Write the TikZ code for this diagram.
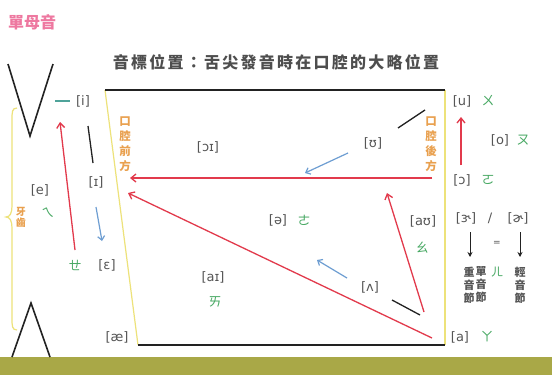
\documentclass[tikz,border=0pt]{standalone}
\usepackage{fontspec}
\setmainfont{DejaVu Sans}
\newfontfamily\cjk{Noto Sans CJK TC}
\newfontfamily\cjksp{Noto Sans CJK TC}[LetterSpace=14]
\usetikzlibrary{arrows.meta}
\definecolor{lblc}{HTML}{555555}
\definecolor{greenc}{HTML}{46A862}
\definecolor{orangec}{HTML}{E9A04E}
\definecolor{redc}{HTML}{E23A4C}
\definecolor{bluec}{HTML}{6E9ED2}
\definecolor{blkc}{HTML}{222222}
\definecolor{ylwc}{HTML}{EDE27A}
\definecolor{pinkc}{HTML}{EE78A0}
\definecolor{olivec}{HTML}{A9A847}
\definecolor{tealc}{HTML}{4FA39A}
\tikzset{
  lbl/.style={text=lblc, font=\fontsize{13}{13}\selectfont, inner sep=0pt},
  bpm/.style={text=greenc, font=\cjk\fontsize{13}{13}\selectfont, inner sep=0pt},
  vtext/.style={text=orangec, font=\cjk\bfseries\fontsize{11.5}{15}\selectfont, align=center, inner sep=0pt},
  small/.style={text=lblc, font=\cjk\bfseries\fontsize{11}{13}\selectfont, align=center, inner sep=0pt},
  redarr/.style={draw=redc, line width=1.3pt, -{Straight Barb[length=5pt,width=8pt]}},
  bluearr/.style={draw=bluec, line width=1.2pt, -{Straight Barb[length=4pt,width=7pt]}},
  blkarr/.style={draw=blkc, line width=1pt, -{Stealth[length=5pt,width=5pt]}},
  blk/.style={draw=blkc, line width=1.6pt},
  thinblk/.style={draw=blkc, line width=1.3pt},
  ylw/.style={draw=ylwc, line width=1.2pt},
}
\begin{document}
\begin{tikzpicture}[x=1pt,y=-1pt]
\useasboundingbox[fill=white] (0,0) rectangle (552,375);
\fill[olivec] (0,357) rectangle (552,375);

% titles
\node[text=pinkc, font=\cjk\bfseries\fontsize{16}{16}\selectfont, inner sep=0pt, anchor=west] (title) at (8,22) {單母音};
\node[text=blkc!80, font=\cjksp\bfseries\fontsize{16}{16}\selectfont, inner sep=0pt] (sub) at (276,62) {音標位置：舌尖發音時在口腔的大略位置};

% mouth frame
\coordinate (tl) at (105,90);
\coordinate (tr) at (445,90);
\coordinate (bl) at (138,345);
\coordinate (br) at (445,345);
\draw[ylw] (tl) -- (bl);
\draw[ylw] (tr) -- (br);
\draw[blk] (tl) -- (tr);
\draw[blk] (bl) -- (br);

% teeth
\coordinate (v1) at (8,64);
\coordinate (v2) at (30,136);
\coordinate (v3) at (53,64);
\draw[blk] (v1) -- (v2) -- (v3);
\coordinate (w1) at (12,357);
\coordinate (w2) at (31,303);
\coordinate (w3) at (50,357);
\draw[blk] (w1) -- (w2) -- (w3);

% brace
\coordinate (bt) at (17,108);
\coordinate (bb) at (17,330);
\coordinate (bm) at (6,217);
\draw[ylw] (bt) .. controls (12,108) and (12,112) .. (12,120) -- (12,206)
  .. controls (12,213) and (10,217) .. (bm)
  .. controls (10,217) and (12,221) .. (12,228) -- (12,318)
  .. controls (12,326) and (12,330) .. (bb);
\node[vtext, font=\cjk\bfseries\fontsize{10}{11}\selectfont] (teeth) at (21,217) {牙\\齒};

% front labels
\node[lbl] (i) at (83,101) {[i]};
\coordinate (d1) at (55,101);
\coordinate (d2) at (70,101);
\draw[draw=tealc, line width=1.5pt] (d1) -- (d2);
\node[lbl] (I) at (96,182) {[ɪ]};
\node[lbl] (eps) at (107,265) {[ɛ]};
\node[bpm] (eh) at (75,265) {ㄝ};
\node[lbl] (e) at (40,190) {[e]};
\node[bpm] (ei) at (48,213) {ㄟ};
\node[lbl] (ae) at (117,337) {[æ]};
\node[vtext] (front) at (125,144) {口\\腔\\前\\方};

\coordinate (k1) at (88,126);
\coordinate (k2) at (93,163);
\draw[thinblk] (k1) -- (k2);
\coordinate (b1s) at (96,207);
\coordinate (b1e) at (102,241);
\draw[bluearr] (b1s) -- (b1e);
\coordinate (r1s) at (75,250);
\coordinate (r1e) at (60,122);
\draw[redarr] (r1s) -- (r1e);

% central labels
\node[lbl] (oi) at (208,147) {[ɔɪ]};
\node[lbl] (U) at (373,143) {[ʊ]};
\node[lbl] (schwa) at (278,220) {[ə]};
\node[bpm] (er) at (304,220) {ㄜ};
\node[lbl] (aI) at (213,277) {[aɪ]};
\node[bpm] (ai) at (215,302) {ㄞ};
\node[lbl] (wedge) at (370,287) {[ʌ]};
\node[lbl] (aU) at (423,221) {[aʊ]};
\node[bpm] (ao) at (422,248) {ㄠ};

\coordinate (k3) at (398,128);
\coordinate (k4) at (425,110);
\draw[thinblk] (k3) -- (k4);
\coordinate (k5) at (392,300);
\coordinate (k6) at (420,315);
\draw[thinblk] (k5) -- (k6);

\coordinate (b2s) at (348,153);
\coordinate (b2e) at (305,173);
\draw[bluearr] (b2s) -- (b2e);
\coordinate (b3s) at (347,278);
\coordinate (b3e) at (317,260);
\draw[bluearr] (b3s) -- (b3e);

\coordinate (r2s) at (432,178);
\coordinate (r2e) at (130,178);
\draw[redarr] (r2s) -- (r2e);
\coordinate (r3s) at (432,338);
\coordinate (r3e) at (128,193);
\draw[redarr] (r3s) -- (r3e);
\coordinate (r4s) at (424,312);
\coordinate (r4e) at (387,193);
\draw[redarr] (r4s) -- (r4e);

\node[vtext] (back) at (431,144) {口\\腔\\後\\方};

% back labels
\node[lbl] (u) at (462,101) {[u]};
\node[bpm] (wu) at (488,101) {ㄨ};
\node[lbl] (o) at (500,140) {[o]};
\node[bpm] (ou) at (523,140) {ㄡ};
\node[lbl] (c) at (462,180) {[ɔ]};
\node[bpm] (oo) at (488,180) {ㄛ};
\node[lbl] (a) at (460,337) {[a]};
\node[bpm] (ah) at (487,337) {ㄚ};
\coordinate (r5s) at (461,165);
\coordinate (r5e) at (461,117);
\draw[redarr] (r5s) -- (r5e);

% r-coloured
\node[lbl] (er1) at (466,218) {[ɝ]};
\node[lbl] (slash) at (490,218) {/};
\node[lbl] (er2) at (518,218) {[ɚ]};
\coordinate (a1s) at (470,232);
\coordinate (a1e) at (470,257);
\draw[blkarr] (a1s) -- (a1e);
\coordinate (a2s) at (520,232);
\coordinate (a2e) at (520,257);
\draw[blkarr] (a2s) -- (a2e);
\node[lbl, font=\fontsize{9}{9}\selectfont] (eq) at (497,243) {=};
\node[small] (stress) at (469,285) {重\\音\\節};
\node[small] (mono) at (481,285) {單\\音\\節};
\node[bpm, font=\cjk\fontsize{12}{12}\selectfont] (erh) at (497,272) {ㄦ};
\node[small] (weak) at (520,285) {輕\\音\\節};
\end{tikzpicture}
\end{document}
